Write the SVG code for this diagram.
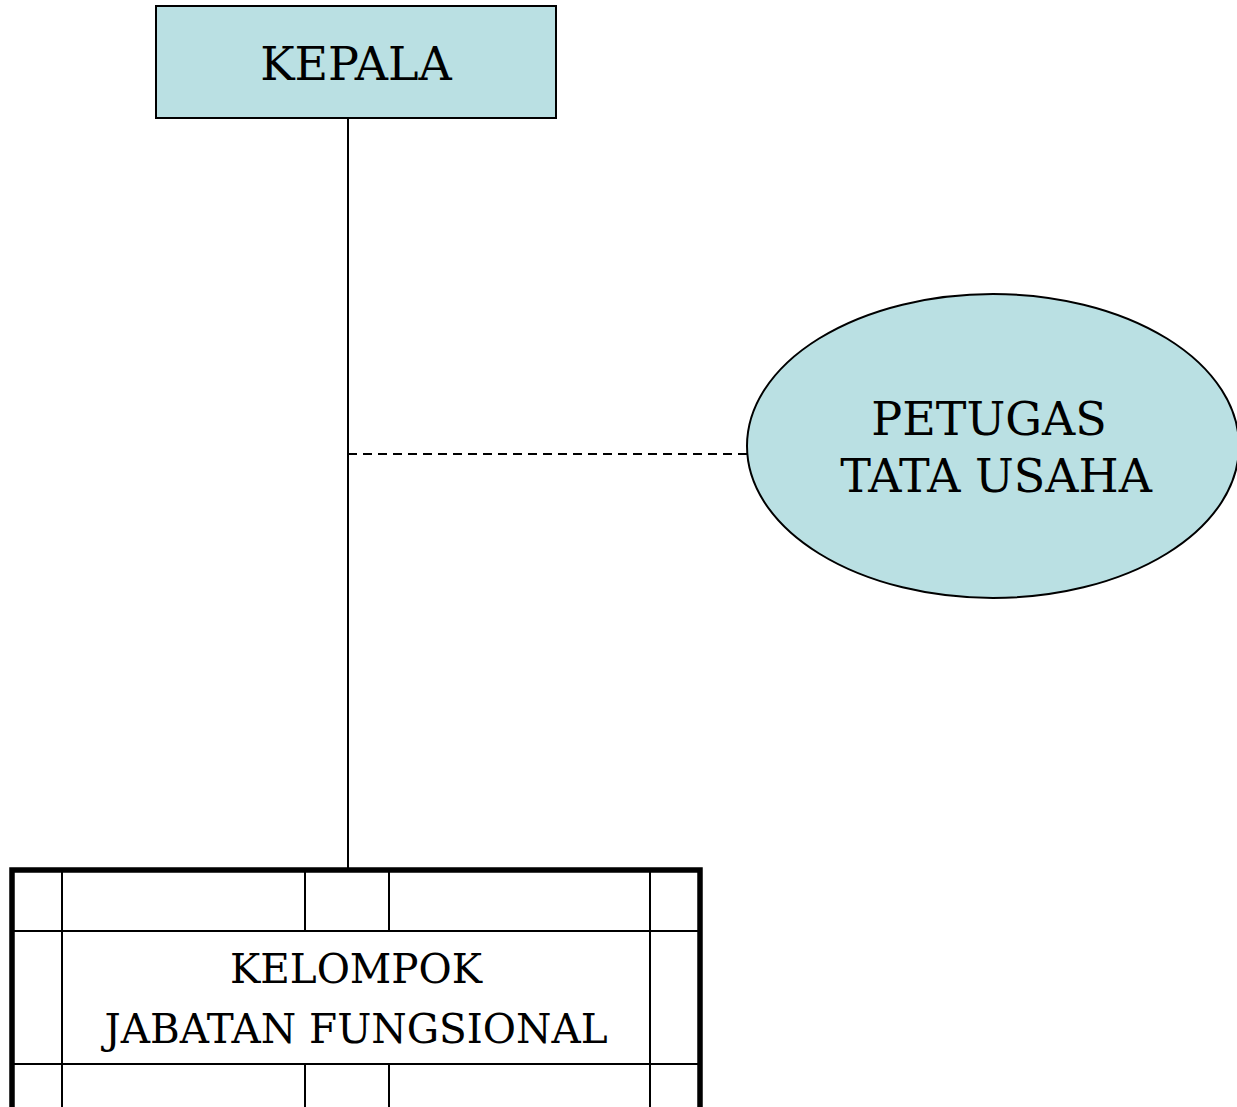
<svg xmlns="http://www.w3.org/2000/svg" width="1237" height="1107" viewBox="0 0 1237 1107">
<style>
.t{font-family:"DejaVu Serif","Liberation Serif",serif;fill:#000;text-anchor:middle}
.fill{fill:#BAE0E3;stroke:#000;stroke-width:2}
.ln{stroke:#000;stroke-width:2;fill:none}
</style>
<rect width="1237" height="1107" fill="#fff"/>
<g id="connectors">
<line class="ln" x1="348" y1="118" x2="348" y2="869"/>
<line class="ln" x1="348" y1="454" x2="748" y2="454" stroke-dasharray="9,6"/>
</g>
<g id="kepala">
<rect class="fill" x="156" y="6" width="400" height="112"/>
<text class="t" x="356" y="80" font-size="46">KEPALA</text>
</g>
<g id="petugas">
<ellipse class="fill" cx="993" cy="446" rx="246" ry="152"/>
<text class="t" x="989" y="435" font-size="46">PETUGAS</text>
<text class="t" x="996" y="492" font-size="46">TATA USAHA</text>
</g>
<g id="kelompok">
<rect x="12" y="870" width="688" height="260" fill="#fff" stroke="#000" stroke-width="5.5"/>
<g class="ln">
<line x1="12" y1="931" x2="700" y2="931"/>
<line x1="12" y1="1064" x2="700" y2="1064"/>
<line x1="62" y1="870" x2="62" y2="1107"/>
<line x1="650" y1="870" x2="650" y2="1107"/>
<line x1="305" y1="870" x2="305" y2="931"/>
<line x1="389" y1="870" x2="389" y2="931"/>
<line x1="305" y1="1064" x2="305" y2="1107"/>
<line x1="389" y1="1064" x2="389" y2="1107"/>
</g>
<text class="t" x="356" y="983" font-size="40.5">KELOMPOK</text>
<text class="t" x="356" y="1043" font-size="40.5">JABATAN FUNGSIONAL</text>
</g>
</svg>
